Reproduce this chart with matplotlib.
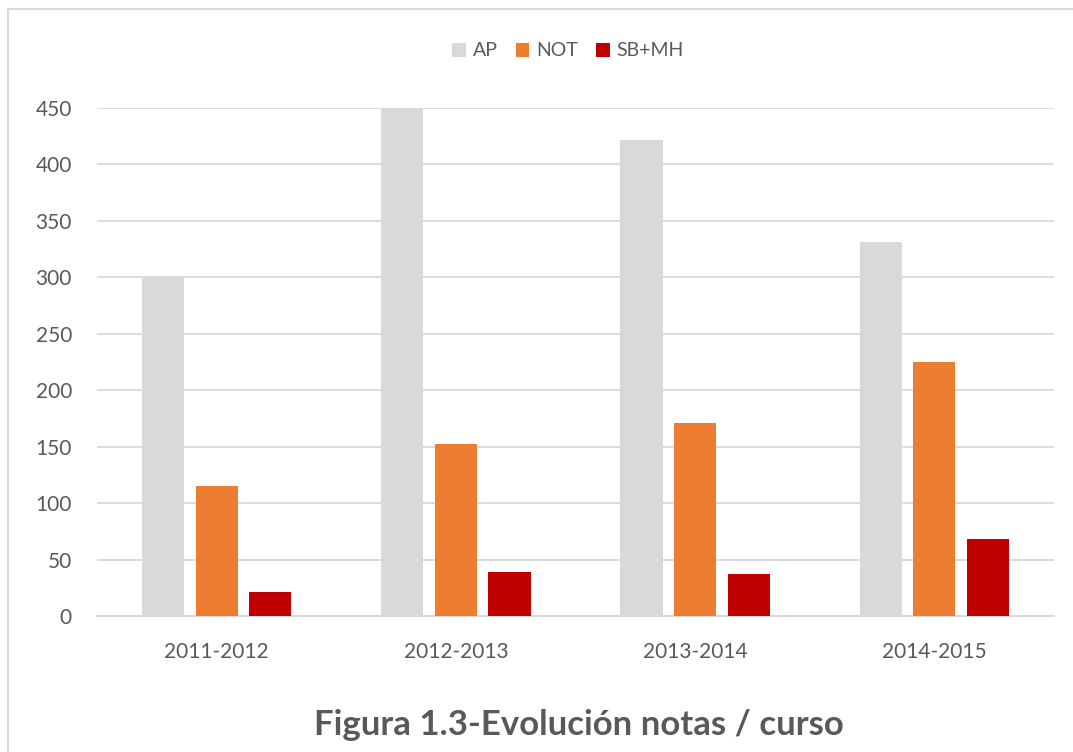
import matplotlib
matplotlib.use("Agg")
import matplotlib.pyplot as plt
from matplotlib.patches import Patch
from matplotlib.lines import Line2D
import numpy as np

categories = ["2011-2012", "2012-2013", "2013-2014", "2014-2015"]
series_names = ["AP", "NOT", "SB+MH"]
ap = [299, 450, 422, 331]
notable = [115, 152, 171, 225]
sb_mh = [21, 39, 37, 68]
yticks = [0, 50, 100, 150, 200, 250, 300, 350, 400, 450]
title = "Figura 1.3-Evolución notas / curso"

colors = ["#D9D9D9", "#ED7D31", "#C00000"]
text_color = "#595959"
grid_color = "#D9D9D9"

plt.rcParams["font.family"] = ["Lato", "DejaVu Sans"]

W, H = 1073, 752
fig = plt.figure(figsize=(W / 100, H / 100), dpi=100)
fig.patch.set_facecolor("white")

# axes in pixel coordinates
left, right, top, bottom = 97, 1054, 108, 616
ax = fig.add_axes([left / W, 1 - bottom / H, (right - left) / W, (bottom - top) / H])

x = np.arange(len(categories))
width = 0.176
step = 0.224
for i, (vals, c, name) in enumerate(zip([ap, notable, sb_mh], colors, series_names)):
    ax.bar(x + (i - 1) * step, vals, width=width, color=c, label=name, zorder=3)

ax.set_xlim(-0.5, len(categories) - 0.5)
ax.set_ylim(0, 450)
ax.set_yticks(yticks)
ax.set_yticklabels([str(v) for v in yticks])
ax.set_xticks(x)
ax.set_xticklabels(categories)
ax.grid(axis="y", color=grid_color, linewidth=1.3, zorder=0)
ax.set_axisbelow(True)
for s in ["top", "right", "left"]:
    ax.spines[s].set_visible(False)
ax.spines["bottom"].set_color(grid_color)
ax.spines["bottom"].set_linewidth(1.3)
ax.tick_params(axis="both", length=0, colors=text_color, labelsize=15)
ax.tick_params(axis="y", pad=18)
ax.tick_params(axis="x", pad=19)

handles = [Patch(facecolor=c, edgecolor="none") for c in colors]
fig.legend(handles, series_names, loc="center", bbox_to_anchor=(568 / W, 1 - 51 / H),
           ncol=3, frameon=False, fontsize=14, handlelength=0.7, handleheight=0.7,
           handletextpad=0.36, columnspacing=0.93, labelcolor=text_color,
           borderpad=0, borderaxespad=0)

fig.text(579 / W, 1 - 735 / H, title, ha="center", va="baseline", fontsize=25,
         fontweight="bold", color=text_color)

# chart border (left and top visible)
fig.add_artist(Line2D([8 / W, 8 / W], [0, 1 - 9 / H], color=grid_color, linewidth=1.5))
fig.add_artist(Line2D([8 / W, 1], [1 - 9 / H, 1 - 9 / H], color=grid_color, linewidth=1.5))

fig.savefig("out.png", dpi=100, facecolor="white")
